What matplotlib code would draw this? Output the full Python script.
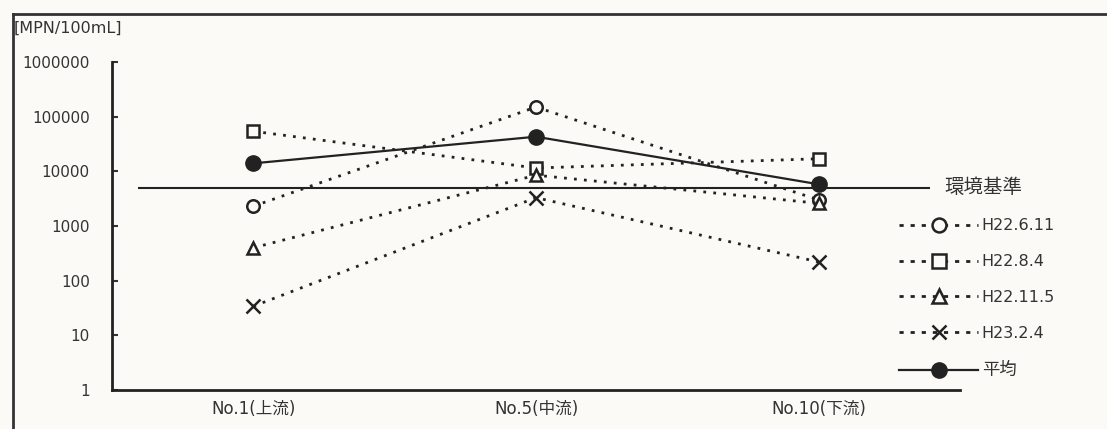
import matplotlib
matplotlib.use("Agg")
import matplotlib.pyplot as plt
from matplotlib.lines import Line2D

plt.rcParams['font.family'] = ['DejaVu Sans', 'Noto Sans CJK JP']

# Survey points along the river
sites = ["No.1(上流)", "No.5(中流)", "No.10(下流)"]

# Coliform counts (MPN/100mL) per survey date
h22_6_11 = [2300, 150000, 3000]
h22_8_4 = [54000, 11500, 17000]
h22_11_5 = [400, 8500, 2600]
h23_2_4 = [34, 3300, 220]
mean_vals = [14000, 43000, 5800]

standard = 5000          # environmental standard
standard_label = "環境基準"

y_ticks = [1, 10, 100, 1000, 10000, 100000, 1000000]
y_tick_labels = ["1", "10", "100", "1000", "10000", "100000", "1000000"]

W, H = 1107, 429
fig = plt.figure(figsize=(W / 100, H / 100), dpi=100)
bg = "#fbfaf6"
fig.patch.set_facecolor(bg)

ax = fig.add_axes([112 / W, 1 - 390 / H, (960 - 112) / W, (390 - 62) / H])
ax.set_facecolor(bg)
ax.set_yscale("log")
ax.set_ylim(1, 1000000)
ax.set_xlim(0, 3)

xs = [0.5, 1.5, 2.5]
dot = (0, (1.0, 2.6))
ink = "#222222"
txt = "#333333"
cjk = ['Noto Sans CJK JP', 'DejaVu Sans']

series = [
    ("H22.6.11", h22_6_11, "o"),
    ("H22.8.4", h22_8_4, "s"),
    ("H22.11.5", h22_11_5, "^"),
    ("H23.2.4", h23_2_4, "x"),
]
handles = []
for name, vals, mk in series:
    ln, = ax.plot(xs, vals, linestyle=dot, color=ink, linewidth=2.0,
                  marker=mk, markersize=9 if mk != "x" else 10,
                  markerfacecolor=bg if mk != "x" else ink,
                  markeredgecolor=ink, markeredgewidth=1.8,
                  label=name, clip_on=False, zorder=3)
    handles.append(ln)

avg_ln, = ax.plot(xs, mean_vals, linestyle="-", color=ink, linewidth=1.6,
                  marker="o", markersize=11, markerfacecolor=ink,
                  markeredgecolor=ink, label="平均", clip_on=False, zorder=4)
handles.append(avg_ln)

# Environmental standard line
ax.hlines(standard, 0.092, 2.894, color=ink, linewidth=1.5, zorder=2)
ax.text(2.945, standard, standard_label, va="center", ha="left",
        fontsize=14, color=txt, clip_on=False, family=cjk)

ax.set_yticks(y_ticks)
ax.set_yticklabels(y_tick_labels)
ax.yaxis.set_minor_locator(matplotlib.ticker.NullLocator())
ax.tick_params(axis="y", direction="in", length=4, width=1.5, colors=txt,
               labelsize=11, pad=16)
ax.set_xticks(xs)
ax.set_xticklabels(sites)
ax.tick_params(axis="x", length=0, labelsize=12, colors=txt, pad=7)

for side in ("top", "right"):
    ax.spines[side].set_visible(False)
for side in ("left", "bottom"):
    ax.spines[side].set_linewidth(2.0)
    ax.spines[side].set_color(ink)

# Legend for the survey dates and the mean
legend_handles = []
for h in handles[:-1]:
    legend_handles.append(Line2D([], [], linestyle=(0, (1.5, 2.5)), color=ink,
                                 linewidth=2.0, marker=h.get_marker(),
                                 markersize=10,
                                 markerfacecolor=bg if h.get_marker() != "x" else ink,
                                 markeredgecolor=ink, markeredgewidth=1.8))
legend_handles.append(Line2D([], [], linestyle="-", color=ink, linewidth=1.6,
                             marker="o", markersize=11, markerfacecolor=ink,
                             markeredgecolor=ink))
leg = fig.legend(legend_handles, [h.get_label() for h in handles],
                 loc="upper left", bbox_to_anchor=(893 / W, 1 - 212 / H),
                 frameon=False, handlelength=4.9, handletextpad=0.25,
                 labelspacing=1.3, fontsize=11.5, borderaxespad=0)
for t in leg.get_texts():
    t.set_color(txt)
leg.get_texts()[-1].set_fontsize(12.5)
leg.get_texts()[-1].set_family(cjk)

# Unit label
fig.text(14 / W, 1 - 28 / H, "[MPN/100mL]", fontsize=11.5, color=txt,
         va="center", ha="left")

# Outer frame (left and top edges)
fig.add_artist(Line2D([12.5 / W, 12.5 / W], [0, 1 - 14 / H],
                      transform=fig.transFigure, color="#333333", linewidth=2.0))
fig.add_artist(Line2D([12.5 / W, 1], [1 - 14 / H, 1 - 14 / H],
                      transform=fig.transFigure, color="#333333", linewidth=2.0))

fig.savefig("out.png", dpi=100, facecolor=bg)
